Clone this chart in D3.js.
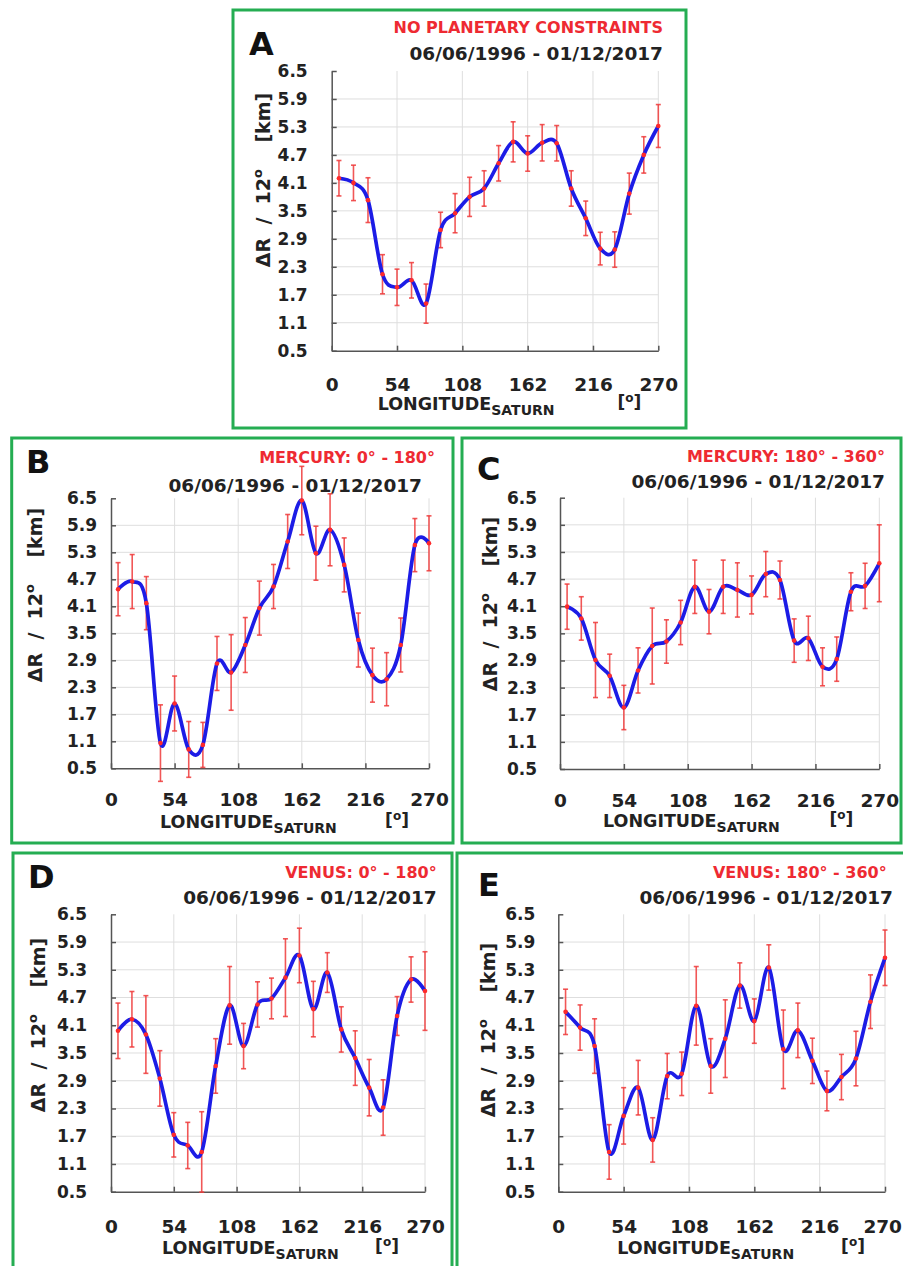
<!DOCTYPE html>
<html>
<head>
<meta charset="utf-8">
<script src="https://cdn.jsdelivr.net/npm/d3@7"></script>
<style>
  body { margin: 0; background: #fff; }
  svg { display: block; }
  text { font-family: "DejaVu Sans", sans-serif; font-weight: bold; }
</style>
</head>
<body>
<div id="chart-area"></div>
<script>
// Saturn longitude bins (12 deg each)
const longitudes = [6, 18, 30, 42, 54, 66, 78, 90, 102, 114, 126, 138, 150, 162, 174, 186, 198, 210, 222, 234, 246, 258, 270]
const xTicks = [0, 54, 108, 162, 216, 270]
const yTicks = [0.5, 1.1, 1.7, 2.3, 2.9, 3.5, 4.1, 4.7, 5.3, 5.9, 6.5]
const dateRange = "06/06/1996 - 01/12/2017"

const valuesA = [4.20, 4.10, 3.73, 2.14, 1.86, 2.01, 1.51, 3.09, 3.45, 3.80, 3.98, 4.52, 4.98, 4.73, 4.96, 4.95, 3.98, 3.34, 2.69, 2.67, 3.87, 4.70, 5.32]
const errorsA = [0.38, 0.38, 0.48, 0.42, 0.39, 0.38, 0.42, 0.38, 0.42, 0.42, 0.38, 0.38, 0.43, 0.38, 0.39, 0.38, 0.38, 0.37, 0.35, 0.38, 0.44, 0.39, 0.46]

const valuesB = [4.48, 4.65, 4.17, 1.06, 1.94, 0.92, 1.02, 2.83, 2.63, 3.24, 4.06, 4.54, 5.54, 6.45, 5.28, 5.80, 5.02, 3.35, 2.57, 2.48, 3.24, 5.46, 5.50]
const errorsB = [0.59, 0.60, 0.59, 0.85, 0.61, 0.62, 0.50, 0.60, 0.84, 0.61, 0.60, 0.49, 0.60, 0.76, 0.60, 0.80, 0.60, 0.60, 0.60, 0.59, 0.60, 0.59, 0.61]

const valuesC = [4.09, 3.83, 2.91, 2.56, 1.86, 2.68, 3.22, 3.32, 3.74, 4.53, 3.98, 4.53, 4.46, 4.35, 4.81, 4.68, 3.34, 3.39, 2.76, 2.93, 4.42, 4.55, 5.05]
const errorsC = [0.50, 0.48, 0.83, 0.48, 0.49, 0.50, 0.84, 0.48, 0.49, 0.59, 0.49, 0.59, 0.60, 0.42, 0.50, 0.42, 0.48, 0.49, 0.42, 0.49, 0.42, 0.50, 0.85]

const valuesD = [3.98, 4.23, 3.90, 2.95, 1.73, 1.50, 1.36, 3.22, 4.53, 3.65, 4.55, 4.68, 5.13, 5.61, 4.45, 5.24, 4.01, 3.39, 2.75, 2.32, 4.30, 5.09, 4.84]
const errorsD = [0.60, 0.60, 0.84, 0.60, 0.48, 0.50, 0.87, 0.59, 0.84, 0.49, 0.49, 0.44, 0.84, 0.59, 0.60, 0.43, 0.49, 0.59, 0.61, 0.60, 0.42, 0.49, 0.85]

const valuesE = [4.39, 4.05, 3.65, 1.36, 2.14, 2.75, 1.62, 3.00, 3.05, 4.52, 3.22, 3.81, 4.96, 4.19, 5.35, 3.58, 3.99, 3.33, 2.68, 2.98, 3.38, 4.61, 5.56]
const errorsE = [0.49, 0.49, 0.59, 0.59, 0.61, 0.59, 0.48, 0.49, 0.47, 0.85, 0.59, 0.84, 0.49, 0.48, 0.49, 0.85, 0.59, 0.49, 0.43, 0.49, 0.59, 0.58, 0.60]

const PAGE_W = 903
const svg = d3.select("#chart-area").append("svg")
  .attr("width", PAGE_W)
  .attr("height", 1266)

class PanelChart {
  constructor(_cfg) {
    this.cfg = _cfg
    this.initVis()
  }

  initVis() {
    const vis = this
    const c = vis.cfg

    // green frame
    svg.append("rect")
      .attr("x", c.box[0]).attr("y", c.box[1])
      .attr("width", c.box[2] - c.box[0]).attr("height", c.box[3] - c.box[1])
      .attr("fill", "none")
      .attr("stroke", "#25ad52")
      .attr("stroke-width", 3)

    vis.WIDTH = c.plot[2] - c.plot[0]
    vis.HEIGHT = c.plot[3] - c.plot[1]

    vis.g = svg.append("g")
      .attr("transform", `translate(${c.plot[0]}, ${c.plot[1]})`)

    vis.x = d3.scaleLinear().domain([0, 270]).range([0, vis.WIDTH])
    vis.y = d3.scaleLinear().domain([0.5, 6.5]).range([vis.HEIGHT, 0])

    // grid
    vis.g.append("g").selectAll("line")
      .data(xTicks.slice(1))
      .enter().append("line")
      .attr("x1", d => vis.x(d)).attr("x2", d => vis.x(d))
      .attr("y1", 0).attr("y2", vis.HEIGHT)
      .attr("stroke", "#dedede")
    vis.g.append("g").selectAll("line")
      .data(yTicks.slice(1, -1))
      .enter().append("line")
      .attr("x1", 0).attr("x2", vis.WIDTH)
      .attr("y1", d => vis.y(d)).attr("y2", d => vis.y(d))
      .attr("stroke", "#dedede")

    vis.xAxisCall = d3.axisBottom(vis.x)
      .tickValues(xTicks)
      .tickSizeInner(-5)
      .tickSizeOuter(0)
      .tickPadding(c.xPad)
    vis.yAxisCall = d3.axisLeft(vis.y)
      .tickValues(yTicks)
      .tickFormat(d3.format(".1f"))
      .tickSizeInner(-5)
      .tickSizeOuter(0)
      .tickPadding(c.yPad)

    vis.xAxis = vis.g.append("g")
      .attr("class", "x axis")
      .attr("transform", `translate(0, ${vis.HEIGHT})`)
      .call(vis.xAxisCall)
    vis.yAxis = vis.g.append("g")
      .attr("class", "y axis")
      .call(vis.yAxisCall)

    vis.g.selectAll(".axis path, .axis line")
      .attr("stroke", "#555")
      .attr("stroke-width", 1.5)
    vis.xAxis.selectAll("text")
      .attr("font-size", "18.5px")
      .attr("fill", "#222")
    vis.yAxis.selectAll("text")
      .attr("font-size", "17px")
      .attr("fill", "#222")

    // keep the last tick label inside the page
    vis.xAxis.selectAll("text").each(function() {
      const b = this.getBoundingClientRect()
      if (b.right > PAGE_W - 1) {
        d3.select(this).attr("x", -(b.right - PAGE_W + 1))
      }
    })

    // header texts
    svg.append("text")
      .attr("x", c.letterPos[0]).attr("y", c.letterPos[1])
      .attr("font-size", "32px")
      .attr("fill", "#111")
      .text(c.letter)
    svg.append("text")
      .attr("x", c.titlePos[0]).attr("y", c.titlePos[1])
      .attr("text-anchor", "end")
      .attr("font-size", "16px")
      .attr("fill", "#ee2a32")
      .text(c.title)
    svg.append("text")
      .attr("x", c.datePos[0]).attr("y", c.datePos[1])
      .attr("text-anchor", "end")
      .attr("font-size", "18.5px")
      .attr("fill", "#222")
      .text(dateRange)

    // y axis label
    const yl = svg.append("text")
      .attr("transform", `translate(${c.yLabelPos[0]}, ${c.yLabelPos[1]}) rotate(-90)`)
      .attr("text-anchor", "middle")
      .attr("font-size", "19px")
      .attr("fill", "#222")
      .style("white-space", "pre")
    yl.append("tspan").text("ΔR  /  12")
    yl.append("tspan").attr("dy", -8).attr("font-size", "13px").text("o")
    yl.append("tspan").attr("dy", 8).text("    [km]")

    // x axis label
    const xl = svg.append("text")
      .attr("x", c.plot[0] + c.xLabelDx).attr("y", c.plot[3] + c.xLabelDy)
      .attr("font-size", "17.5px")
      .attr("fill", "#222")
    xl.append("tspan").text("LONGITUDE")
    xl.append("tspan").attr("dy", 5).attr("font-size", "14px").text("SATURN")

    const ul = svg.append("text")
      .attr("x", c.plot[2] + c.unitDx).attr("y", c.plot[3] + c.xLabelDy - 2)
      .attr("text-anchor", "middle")
      .attr("font-size", "17px")
      .attr("fill", "#222")
    ul.append("tspan").text("[")
    ul.append("tspan").attr("dy", -6).attr("font-size", "12px").text("o")
    ul.append("tspan").attr("dy", 6).text("]")

    vis.wrangleData()
  }

  wrangleData() {
    const vis = this
    vis.data = longitudes.map((lon, i) => ({
      lon: lon,
      value: vis.cfg.values[i],
      err: vis.cfg.errors[i]
    }))
    vis.updateVis()
  }

  updateVis() {
    const vis = this

    const bars = vis.g.append("g")
      .attr("stroke", "#ee3a3a")
      .attr("stroke-opacity", 0.85)
      .attr("stroke-width", 1.6)
    bars.selectAll(".err")
      .data(vis.data)
      .enter().append("line")
      .attr("x1", d => vis.x(d.lon)).attr("x2", d => vis.x(d.lon))
      .attr("y1", d => vis.y(d.value + d.err)).attr("y2", d => vis.y(d.value - d.err))
    bars.selectAll(".capTop")
      .data(vis.data)
      .enter().append("line")
      .attr("x1", d => vis.x(d.lon) - 2.5).attr("x2", d => vis.x(d.lon) + 2.5)
      .attr("y1", d => vis.y(d.value + d.err)).attr("y2", d => vis.y(d.value + d.err))
    bars.selectAll(".capBottom")
      .data(vis.data)
      .enter().append("line")
      .attr("x1", d => vis.x(d.lon) - 2.5).attr("x2", d => vis.x(d.lon) + 2.5)
      .attr("y1", d => vis.y(d.value - d.err)).attr("y2", d => vis.y(d.value - d.err))

    const line = d3.line()
      .x(d => vis.x(d.lon))
      .y(d => vis.y(d.value))
      .curve(d3.curveCardinal.tension(0))

    vis.g.append("path")
      .datum(vis.data)
      .attr("class", "line")
      .attr("fill", "none")
      .attr("stroke", "#1c1ce6")
      .attr("stroke-width", "3.7px")
      .attr("d", line)

    vis.g.selectAll("circle")
      .data(vis.data)
      .enter().append("circle")
      .attr("cx", d => vis.x(d.lon))
      .attr("cy", d => vis.y(d.value))
      .attr("r", 2.3)
      .attr("fill", "#ff2a2a")
  }
}

const panels = [
  { letter: "A", title: "NO PLANETARY CONSTRAINTS", values: valuesA, errors: errorsA,
    box: [233, 10, 686, 428], plot: [331.7, 71, 658.3, 350.7],
    letterPos: [249, 55], titlePos: [663, 33], datePos: [663, 60],
    yPad: 24, xPad: 27, yLabelPos: [270, 180], xLabelDx: 46, xLabelDy: 59, unitDx: -29 },
  { letter: "B", title: "MERCURY: 0° - 180°", values: valuesB, errors: errorsB,
    box: [11.7, 438, 453, 843], plot: [111, 498.3, 429, 768.3],
    letterPos: [26, 473], titlePos: [435, 463], datePos: [422, 491.7],
    yPad: 14, xPad: 25, yLabelPos: [42, 595], xLabelDx: 49, xLabelDy: 60, unitDx: -32 },
  { letter: "C", title: "MERCURY: 180° - 360°", values: valuesC, errors: errorsC,
    box: [462, 438, 901, 843], plot: [560, 497.7, 879.3, 769],
    letterPos: [477, 480], titlePos: [885, 461.7], datePos: [885, 488],
    yPad: 23, xPad: 25, yLabelPos: [497, 604], xLabelDx: 43, xLabelDy: 58, unitDx: -38 },
  { letter: "D", title: "VENUS: 0° - 180°", values: valuesD, errors: errorsD,
    box: [13, 853, 452, 1268], plot: [111, 914.3, 425, 1191.7],
    letterPos: [28, 888], titlePos: [436.7, 877.7], datePos: [436.7, 904.3],
    yPad: 24, xPad: 28, yLabelPos: [45, 1025], xLabelDx: 51, xLabelDy: 62, unitDx: -38 },
  { letter: "E", title: "VENUS: 180° - 360°", values: valuesE, errors: errorsE,
    box: [457, 853, 912, 1268], plot: [558.3, 914.3, 885, 1191.7],
    letterPos: [478, 896], titlePos: [886.7, 877.7], datePos: [893, 904.3],
    yPad: 23, xPad: 28, yLabelPos: [495, 1030], xLabelDx: 59, xLabelDy: 62, unitDx: -32 }
]

panels.forEach(p => new PanelChart(p))
</script>
</body>
</html>
